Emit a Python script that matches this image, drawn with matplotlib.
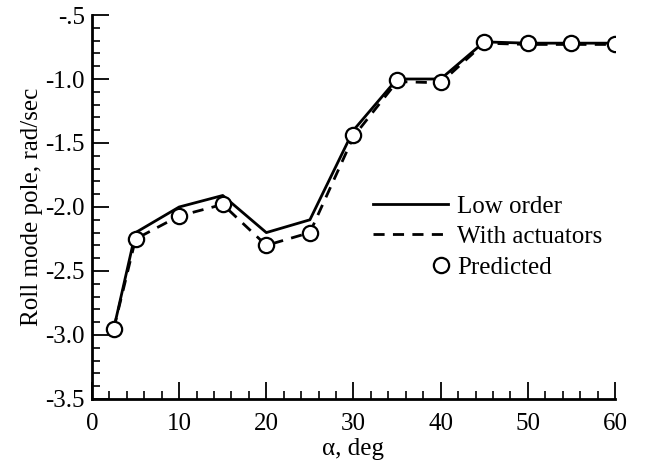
import matplotlib
matplotlib.use("Agg")
import matplotlib.pyplot as plt
from matplotlib.legend_handler import HandlerLine2D
from matplotlib.ticker import MultipleLocator, FixedLocator, FixedFormatter

alpha = [2.5, 5, 10, 15, 20, 25, 30, 35, 40, 45, 50, 55, 60]
low_order = [-2.95, -2.20, -2.00, -1.91, -2.20, -2.10, -1.40, -1.00, -1.00, -0.71, -0.72, -0.72, -0.72]
with_act = [-2.95, -2.25, -2.07, -1.98, -2.30, -2.20, -1.45, -1.02, -1.03, -0.72, -0.73, -0.73, -0.73]
predicted = [-2.95, -2.25, -2.07, -1.98, -2.30, -2.20, -1.44, -1.01, -1.02, -0.71, -0.72, -0.72, -0.73]
yticks = [-3.5, -3.0, -2.5, -2.0, -1.5, -1.0, -0.5]
ytick_labels = ["-3.5", "-3.0", "-2.5", "-2.0", "-1.5", "-1.0", "-.5"]

plt.rcParams["font.family"] = ["Liberation Serif", "DejaVu Serif"]
plt.rcParams["font.size"] = 18


class RightMarker(HandlerLine2D):
    # legend circle sits at the right end of the handle, not the middle
    def create_artists(self, legend, orig_handle, xdescent, ydescent,
                       width, height, fontsize, trans):
        arts = super().create_artists(legend, orig_handle, xdescent, ydescent,
                                      width, height, fontsize, trans)
        xr = width - xdescent - 0.28 * fontsize
        arts[0].set_xdata([xr, xr, xr])
        return arts


fig = plt.figure(figsize=(6.45, 4.66), dpi=100)
ax = fig.add_axes([0.1426, 0.1438, 0.8109, 0.824])

ax.plot(alpha, low_order, "-", color="black", lw=2.0, label="Low order")
ax.plot(alpha, with_act, "--", color="black", lw=2.0, dashes=(4, 3), label="With actuators")
pred, = ax.plot(alpha, predicted, "o", color="black", mfc="white", mec="black", ms=11, mew=1.6,
                ls="none", label="Predicted", zorder=5)

ax.set_xlim(0, 60)
ax.set_ylim(-3.5, -0.5)
ax.xaxis.set_major_locator(MultipleLocator(10))
ax.xaxis.set_minor_locator(MultipleLocator(2))
ax.yaxis.set_major_locator(FixedLocator(yticks))
ax.yaxis.set_major_formatter(FixedFormatter(ytick_labels))
ax.yaxis.set_minor_locator(MultipleLocator(0.1))

for s in ["top", "right"]:
    ax.spines[s].set_visible(False)
for s in ["left", "bottom"]:
    ax.spines[s].set_linewidth(2.0)

ax.tick_params(which="major", direction="in", length=12, width=1.3)
ax.tick_params(which="minor", direction="in", length=6, width=1.2)
ax.tick_params(axis="x", which="major", pad=10)
ax.tick_params(axis="y", which="major", pad=5)

ax.set_xlabel("\u03b1, deg", labelpad=2)
ax.set_ylabel("Roll mode pole, rad/sec", labelpad=2)

ax.legend(loc="center left", bbox_to_anchor=(0.514, 0.422), frameon=False,
          handlelength=3.0, handletextpad=0.35, labelspacing=0.32, borderpad=0,
          numpoints=1, handler_map={pred: RightMarker()})

fig.savefig("out.png", dpi=100)
